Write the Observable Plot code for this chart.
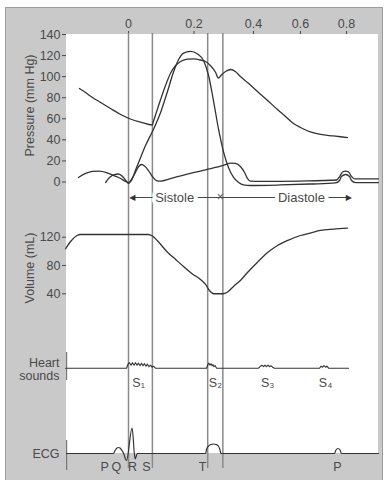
<!DOCTYPE html>
<html><head><meta charset="utf-8">
<script src="https://cdn.jsdelivr.net/npm/d3@7"></script>
<script src="https://cdn.jsdelivr.net/npm/@observablehq/plot@0.6"></script>
<style>
html,body{margin:0;padding:0;background:#fff;}
#wrap{position:relative;width:386px;height:480px;overflow:hidden;font-family:"Liberation Sans",Arial,sans-serif;}
#frame{position:absolute;left:5px;top:7px;width:378px;height:473px;background:#c9c9c9;border-left:1px solid #9c9c9c;border-top:1px solid #9c9c9c;border-right:1px solid #9c9c9c;box-sizing:border-box;}
#panel{position:absolute;left:66px;top:34px;width:312px;height:419px;background:#fff;}
#wrap svg{position:absolute;left:0;top:0;}
</style></head><body>
<div id="wrap"><div id="frame"></div><div id="panel"></div></div>
<script>
// ---- time axis (s) ----
const xTicks = [0, 0.2, 0.4, 0.6, 0.8];
const eventTimes = [0, 0.073, 0.246, 0.297];

// ---- pressure (mm Hg) ----
const pressureTicks = [0, 20, 40, 60, 80, 100, 120, 140];
const aorticT = [-0.150,-0.131,-0.110,-0.085,-0.055,-0.024,0.006,0.037,0.073,0.076,0.082,0.098,0.113,0.128,0.144,0.159,0.180,0.200,0.222,0.239,0.255,0.272,0.282,0.292,0.306,0.323,0.339,0.356,0.380,0.417,0.460,0.502,0.536,0.570,0.600,0.643,0.687,0.743,0.804];
const aorticP = [88.7,84.9,80.2,75.5,69.8,64.1,59.8,56.9,54.1,57.4,63.1,78.3,91.6,103.0,110.6,114.4,116.7,116.9,115.8,114.4,110.6,104.4,98.7,101.6,104.9,106.8,104.9,100.1,94.4,85.9,77.4,68.8,62.2,55.5,51.7,47.5,45.1,43.7,42.2];
const ventT = [-0.070,-0.058,-0.043,-0.031,-0.018,-0.006,0,0.009,0.021,0.037,0.052,0.073,0.098,0.119,0.137,0.153,0.168,0.189,0.212,0.232,0.249,0.266,0.282,0.299,0.316,0.333,0.350,0.366,0.390,0.515,0.643,0.752,0.770,0.778,0.796,0.813,0.822,0.839,0.939];
const ventP = [-0.5,4.3,7.1,7.6,5.2,0.5,-1.4,1.4,10.9,23.3,34.6,47.9,66.0,85.9,103.9,116.3,122.4,123.9,121.5,115.3,101.1,76.4,50.8,28.9,13.8,4.3,-0.5,-2.8,-3.3,-2.8,-1.9,-0.9,1.4,5.2,7.1,5.2,1.4,-0.5,-0.5];
const atrT = [-0.153,-0.131,-0.110,-0.089,-0.067,-0.046,-0.024,-0.009,0,0.009,0.021,0.031,0.040,0.049,0.061,0.073,0.085,0.098,0.128,0.174,0.222,0.272,0.306,0.323,0.339,0.356,0.370,0.380,0.390,0.430,0.600,0.757,0.770,0.783,0.796,0.809,0.822,0.835,0.939];
const atrP = [4.3,8.1,10.0,10.4,9.0,6.2,3.3,0.5,-0.5,2.4,9.0,14.7,16.6,15.2,10.9,5.2,1.4,0.9,3.3,7.1,10.4,13.8,16.6,18.0,17.6,14.7,9.0,3.3,0.9,0.5,0.9,1.9,5.2,9.5,10.4,9.5,5.2,3.0,3.0];

// ---- phases ----
const phaseLabels = ["Sistole", "Diastole"];
const phaseT = [0.141, 0.604];
const phaseLevel = -14.7;
const phaseStart = 0.012, phaseEnd = 0.81, phaseSplit = 0.288;

// ---- volume (mL) ----
const volumeTicks = [40, 80, 120];
const volT = [-0.192,-0.177,-0.157,-0.147,0.061,0.073,0.089,0.119,0.144,0.168,0.195,0.222,0.239,0.252,0.266,0.296,0.313,0.333,0.356,0.383,0.417,0.460,0.502,0.549,0.600,0.643,0.687,0.743,0.804];
const volV = [103.6,113.9,122.4,123.8,123.8,121.7,114.6,98.8,88.5,78.6,68.0,60.3,53.2,44.7,40.1,40.1,42.6,50.4,58.9,71.6,84.7,98.4,108.3,116.0,122.4,125.9,129.5,131.3,132.7];

// ---- heart sounds (relative amplitude) ----
const soundT = [-0.192,-0.006,-0.0015,0.0031,0.0076,0.0122,0.0168,0.0214,0.0260,0.0305,0.0351,0.0397,0.0443,0.0489,0.0534,0.0580,0.0626,0.0672,0.0718,0.0763,0.0824,0.242,0.247,0.250,0.254,0.257,0.261,0.264,0.267,0.271,0.276,0.421,0.430,0.436,0.443,0.449,0.455,0.462,0.468,0.474,0.481,0.489,0.683,0.689,0.696,0.702,0.709,0.715,0.722,0.809];
const soundA = [0,0,4,5.5,3,5.5,3,5.5,3,5,2.5,5,2.5,4.5,2,4,1.5,3,1,2,0,0,4,5,3,4.5,2.5,3.5,1.5,2.5,0,0,2,3,1.5,3,1.5,3,1.5,2.5,1,0,0,2,1,2.5,1,2,0,0];
const soundLabels = ["S\u2081","S\u2082","S\u2083","S\u2084"];
const soundLabelT = [0.031, 0.272, 0.460, 0.709];

// ---- ECG (relative amplitude) ----
const ecgT = [-0.189,-0.046,-0.041,-0.035,-0.031,-0.026,-0.020,-0.015,-0.006,0.011,0.020,0.027,0.239,0.242,0.249,0.257,0.266,0.274,0.282,0.287,0.291,0.748,0.754,0.763,0.772,0.778,0.939];
const ecgA = [0,0,3,5.5,6,5.5,3,0,-7,25.5,-5.5,0,0,4,7.5,9,9.5,9,7.5,4,0,0,3.5,5,3.5,0,0];
const ecgLabels = ["P","Q","R","S","T","P"];
const ecgLabelT = [-0.073,-0.037,0.012,0.055,0.229,0.761];

const panelStart = -0.189;

// ---- build rows ----
const rows = (T, V) => T.map((t, i) => ({t, v: V[i]}));
const aortic = rows(aorticT, aorticP);
const vent = rows(ventT, ventP);
const atr = rows(atrT, atrP);
const volume = rows(volT, volV);
const sounds = rows(soundT, soundA);
const ecg = rows(ecgT, ecgA);
const phases = phaseLabels.map((label, i) => ({t: phaseT[i], v: phaseLevel, label}));
const soundLab = soundLabels.map((label, i) => ({t: soundLabelT[i], v: -14.5, label}));
const ecgLab = ecgLabels.map((label, i) => ({t: ecgLabelT[i], v: -13, label}));

const W = 386, H = 480;
const FONT = "'Liberation Sans', Arial, sans-serif";
const TXT = "#4a4a4a", INK = "#333";
const common = {
  width: W, height: H, marginLeft: 66, marginRight: 8, marginTop: 33, marginBottom: 12,
  style: {background: "transparent", fontFamily: FONT, fontSize: "12.5px", color: TXT, overflow: "visible"}
};
const xScale = {type: "linear", domain: xTicks, range: [128, 193.5, 253, 300, 346]};
const lineOpts = {x: "t", y: "v", stroke: INK, strokeWidth: 1.3, curve: "monotone-x"};

const wrap = document.getElementById("wrap");

// base: top axis + event lines
wrap.appendChild(Plot.plot({
  ...common,
  x: {...xScale, axis: "top", ticks: xTicks, tickFormat: (d) => d3.format("~g")(d), tickSize: 3, tickPadding: 3, label: null},
  marks: [Plot.ruleX(eventTimes, {stroke: "#8a8a8a", strokeWidth: 1.5})]
}));

// pressure
wrap.appendChild(Plot.plot({
  ...common,
  x: {...xScale, axis: null},
  y: {domain: [0, 140], range: [181.5, 34], ticks: pressureTicks, tickSize: 4, tickPadding: 2, label: null},
  marks: [
    Plot.line(aortic, lineOpts),
    Plot.line(vent, lineOpts),
    Plot.line(atr, lineOpts),
    Plot.ruleY([{v: phaseLevel, a: phaseStart, b: phaseEnd}], {y: "v", x1: "a", x2: "b", stroke: "#444", strokeWidth: 1}),
    Plot.text(phases, {x: "t", y: "v", text: "label", fill: TXT, stroke: "white", strokeWidth: 8, paintOrder: "stroke", fontSize: 13}),
    Plot.text([{t: phaseSplit, v: phaseLevel}], {x: "t", y: "v", text: () => "\u00d7", fill: "#555", fontSize: 12}),
    Plot.text([{t: phaseStart, v: phaseLevel}], {x: "t", y: "v", text: () => "\u25C0", fill: "#333", fontSize: 8, fontFamily: "DejaVu Sans"}),
    Plot.text([{t: phaseEnd, v: phaseLevel}], {x: "t", y: "v", text: () => "\u25B6", fill: "#333", fontSize: 8, fontFamily: "DejaVu Sans"}),
    Plot.text([{v: 72.6, s: "Pressure (mm Hg)"}], {y: "v", text: "s", frameAnchor: "left", textAnchor: "middle", dx: -37, rotate: -90, fontSize: 12.5, fill: TXT})
  ]
}));

// volume
wrap.appendChild(Plot.plot({
  ...common,
  x: {...xScale, axis: null},
  y: {domain: [40, 120], range: [293.3, 236.7], ticks: volumeTicks, tickSize: 4, tickPadding: 2, label: null},
  marks: [
    Plot.line(volume, lineOpts),
    Plot.text([{v: 76.5, s: "Volume (mL)"}], {y: "v", text: "s", frameAnchor: "left", textAnchor: "middle", dx: -37, rotate: -90, fontSize: 12.5, fill: TXT})
  ]
}));

// heart sounds
wrap.appendChild(Plot.plot({
  ...common,
  x: {...xScale, axis: null},
  y: {domain: [0, 10], range: [367.7, 357.7], axis: null},
  marks: [
    Plot.ruleX([{t: panelStart}], {x: "t", y1: () => 15.7, y2: () => -12.3, stroke: "#777", strokeWidth: 1.2}),
    Plot.line(sounds, {...lineOpts, curve: "linear", strokeWidth: 1.1}),
    Plot.text(soundLab, {x: "t", y: "v", text: "label", fill: TXT, fontSize: 12.5}),
    Plot.text([{v: -1, s: "Heart\nsounds"}], {y: "v", text: "s", frameAnchor: "left", textAnchor: "end", dx: -7, lineHeight: 1.05, fontSize: 12.5, fill: TXT})
  ]
}));

// ECG
wrap.appendChild(Plot.plot({
  ...common,
  x: {...xScale, axis: null},
  y: {domain: [0, 10], range: [453, 443], axis: null},
  marks: [
    Plot.ruleX([{t: panelStart}], {x: "t", y1: () => 13, y2: () => -17, stroke: "#777", strokeWidth: 1.2}),
    Plot.line(ecg, {...lineOpts, strokeWidth: 1.2}),
    Plot.text(ecgLab, {x: "t", y: "v", text: "label", fill: TXT, fontSize: 12.5}),
    Plot.text([{v: 0, s: "ECG"}], {y: "v", text: "s", frameAnchor: "left", textAnchor: "end", dx: -7, fontSize: 12.5, fill: TXT})
  ]
}));
</script>
</body></html>
